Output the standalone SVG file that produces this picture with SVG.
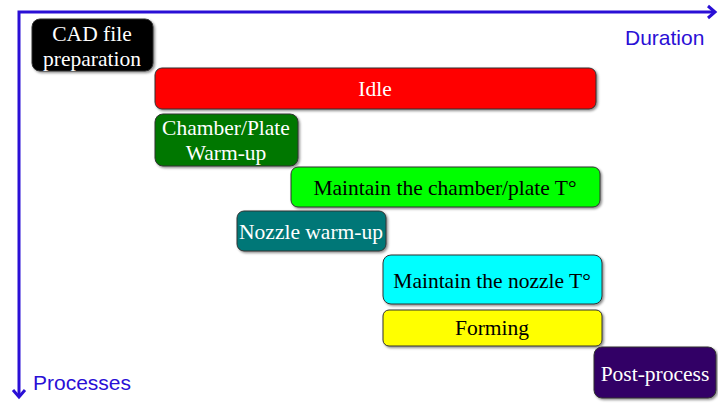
<svg xmlns="http://www.w3.org/2000/svg" width="718" height="405" viewBox="0 0 718 405">
<style>
.box{stroke:#333;stroke-width:1;filter:url(#sh)}
.t{font-family:"Liberation Serif","Times New Roman",serif;font-size:21.5px;text-anchor:middle}
.w{fill:#fff}
.k{fill:#000}
.ax{fill:none;stroke:#2a0fd6;stroke-width:3}
.lab{font-family:"Liberation Sans",Arial,sans-serif;font-size:21px;fill:#2a0fd6}
</style>
<defs>
<filter id="sh" x="-10%" y="-20%" width="120%" height="150%">
<feDropShadow dx="1.5" dy="1.5" stdDeviation="1.2" flood-color="#000" flood-opacity="0.45"/>
</filter>
</defs>
<g id="axes">
<path class="ax" d="M19,397 V12 H715"/>
<path class="ax" d="M708,6 L715,12 L708,18"/>
<path class="ax" d="M13,390 L19,397 L25,390"/>
<text class="lab" x="625" y="45">Duration</text>
<text class="lab" x="33" y="390">Processes</text>
</g>
<g id="cad"><rect class="box" x="32" y="19" width="121" height="52" rx="8" fill="#000"/><text class="t w" x="92" y="41">CAD file</text><text class="t w" x="92" y="66">preparation</text></g>
<g id="idle"><rect class="box" x="155" y="68" width="441" height="41" rx="7" fill="#ff0000"/><text class="t w" x="375" y="96">Idle</text></g>
<g id="chamber"><rect class="box" x="155" y="114" width="143" height="52" rx="8" fill="#007700"/><text class="t w" x="226" y="135">Chamber/Plate</text><text class="t w" x="226" y="160">Warm-up</text></g>
<g id="maintain-chamber"><rect class="box" x="291" y="167" width="309" height="40" rx="7" fill="#00ff00"/><text class="t k" x="445" y="195">Maintain the chamber/plate T°</text></g>
<g id="nozzle"><rect class="box" x="237" y="211" width="149" height="40" rx="7" fill="#007777"/><text class="t w" x="311" y="239">Nozzle warm-up</text></g>
<g id="maintain-nozzle"><rect class="box" x="383" y="255" width="219" height="49" rx="8" fill="#00ffff"/><text class="t k" x="492" y="288">Maintain the nozzle T°</text></g>
<g id="forming"><rect class="box" x="383" y="310" width="219" height="36" rx="6" fill="#ffff00"/><text class="t k" x="492" y="335">Forming</text></g>
<g id="post"><rect class="box" x="594" y="347" width="122" height="51" rx="8" fill="#330066"/><text class="t w" x="655" y="381">Post-process</text></g>
</svg>
